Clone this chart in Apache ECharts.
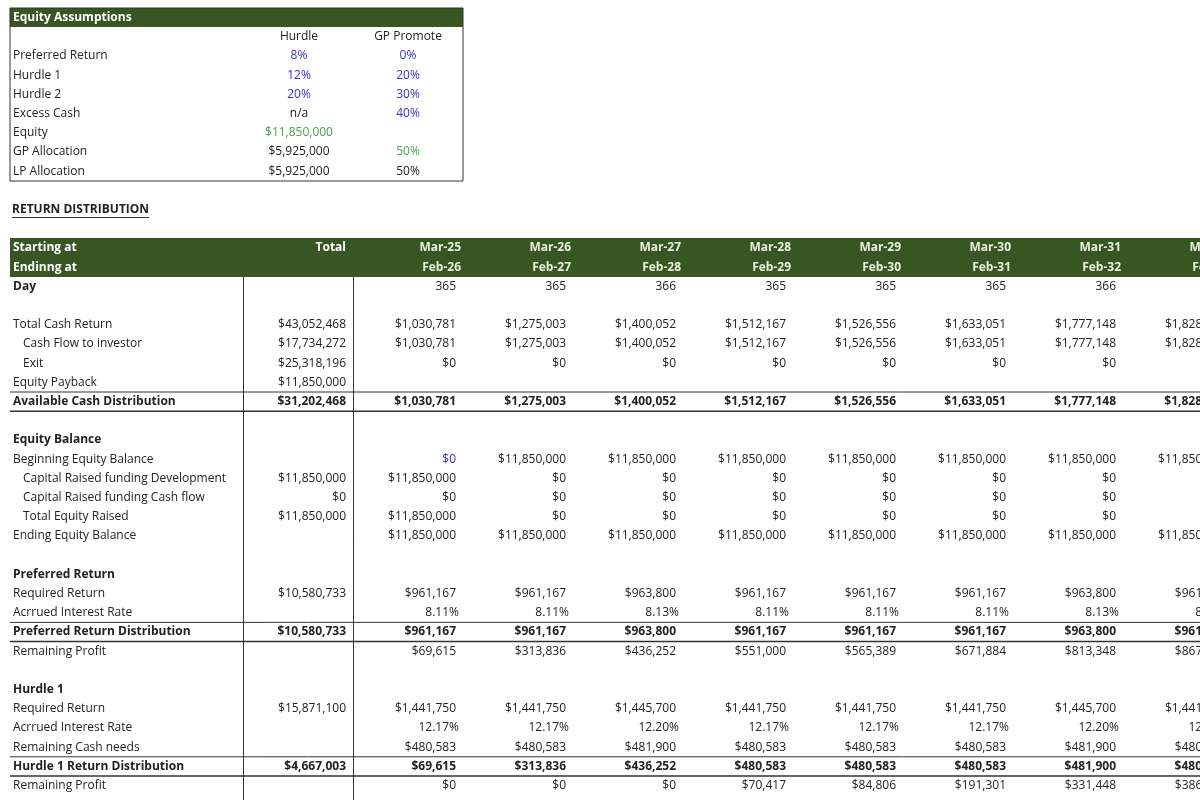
<!DOCTYPE html>
<html>
<head>
<meta charset="utf-8">
<script src="https://cdn.jsdelivr.net/npm/echarts@6/dist/echarts.min.js"></script>
<style>html,body{margin:0;padding:0;background:#fff}#chart{width:1200px;height:800px}</style>
</head>
<body>
<div id="chart"></div>
<script>
// equity assumptions block
const assumpLabels = ['Preferred Return', 'Hurdle 1', 'Hurdle 2', 'Excess Cash', 'Equity', 'GP Allocation', 'LP Allocation'];
const hurdleVals = ['8%', '12%', '20%', 'n/a', '$11,850,000', '$5,925,000', '$5,925,000'];
const hurdleColors = ['blue', 'blue', 'blue', 'dark', 'green', 'dark', 'dark'];
const promoteVals = ['0%', '20%', '30%', '40%', '', '50%', '50%'];
const promoteColors = ['blue', 'blue', 'blue', 'blue', 'dark', 'green', 'dark'];

// return distribution
const startMonths = ['Mar-25', 'Mar-26', 'Mar-27', 'Mar-28', 'Mar-29', 'Mar-30', 'Mar-31', 'Mar-32'];
const endMonths = ['Feb-26', 'Feb-27', 'Feb-28', 'Feb-29', 'Feb-30', 'Feb-31', 'Feb-32', 'Feb-33'];
const days = ['365', '365', '366', '365', '365', '365', '366', '365'];
const cashReturn = ['$1,030,781', '$1,275,003', '$1,400,052', '$1,512,167', '$1,526,556', '$1,633,051', '$1,777,148', '$1,828,250'];
const exitVals = ['$0', '$0', '$0', '$0', '$0', '$0', '$0', ''];
const beginEquity = ['$0', '$11,850,000', '$11,850,000', '$11,850,000', '$11,850,000', '$11,850,000', '$11,850,000', '$11,850,000'];
const raisedDev = ['$11,850,000', '$0', '$0', '$0', '$0', '$0', '$0', ''];
const raisedCash = ['$0', '$0', '$0', '$0', '$0', '$0', '$0', ''];
const endEquity = ['$11,850,000', '$11,850,000', '$11,850,000', '$11,850,000', '$11,850,000', '$11,850,000', '$11,850,000', '$11,850,000'];
const prefRequired = ['$961,167', '$961,167', '$963,800', '$961,167', '$961,167', '$961,167', '$963,800', '$961,167'];
const prefRate = ['8.11%', '8.11%', '8.13%', '8.11%', '8.11%', '8.11%', '8.13%', '8.11%'];
const prefRemaining = ['$69,615', '$313,836', '$436,252', '$551,000', '$565,389', '$671,884', '$813,348', '$867,000'];
const h1Required = ['$1,441,750', '$1,441,750', '$1,445,700', '$1,441,750', '$1,441,750', '$1,441,750', '$1,445,700', '$1,441,750'];
const h1Rate = ['12.17%', '12.17%', '12.20%', '12.17%', '12.17%', '12.17%', '12.20%', '12.17%'];
const h1Needs = ['$480,583', '$480,583', '$481,900', '$480,583', '$480,583', '$480,583', '$481,900', '$480,583'];
const h1Dist = ['$69,615', '$313,836', '$436,252', '$480,583', '$480,583', '$480,583', '$481,900', '$480,583'];
const h1Remaining = ['$0', '$0', '$0', '$70,417', '$84,806', '$191,301', '$331,448', '$386,400'];

const rows = [
  { label: 'Starting at', total: 'Total', vals: startMonths, head: true },
  { label: 'Endinng at', total: '', vals: endMonths, head: true },
  { label: 'Day', total: '', vals: days, bold: true, valBold: false },
  null,
  { label: 'Total Cash Return', total: '$43,052,468', vals: cashReturn },
  { label: 'Cash Flow to investor', indent: 1, total: '$17,734,272', vals: cashReturn },
  { label: 'Exit', indent: 1, total: '$25,318,196', vals: exitVals },
  { label: 'Equity Payback', total: '$11,850,000', vals: [] },
  { label: 'Available Cash Distribution', total: '$31,202,468', vals: cashReturn, bold: true, lines: true },
  null,
  { label: 'Equity Balance', bold: true, vals: [] },
  { label: 'Beginning Equity Balance', total: '', vals: beginEquity, firstBlue: true },
  { label: 'Capital Raised funding Development', indent: 1, total: '$11,850,000', vals: raisedDev },
  { label: 'Capital Raised funding Cash flow', indent: 1, total: '$0', vals: raisedCash },
  { label: 'Total Equity Raised', indent: 1, total: '$11,850,000', vals: raisedDev },
  { label: 'Ending Equity Balance', total: '', vals: endEquity },
  null,
  { label: 'Preferred Return', bold: true, vals: [] },
  { label: 'Required Return', total: '$10,580,733', vals: prefRequired },
  { label: 'Acrrued Interest Rate', total: '', vals: prefRate, pct: true },
  { label: 'Preferred Return Distribution', total: '$10,580,733', vals: prefRequired, bold: true, lines: true },
  { label: 'Remaining Profit', total: '', vals: prefRemaining },
  null,
  { label: 'Hurdle 1', bold: true, vals: [] },
  { label: 'Required Return', total: '$15,871,100', vals: h1Required },
  { label: 'Acrrued Interest Rate', total: '', vals: h1Rate, pct: true },
  { label: 'Remaining Cash needs', total: '', vals: h1Needs },
  { label: 'Hurdle 1 Return Distribution', total: '$4,667,003', vals: h1Dist, bold: true, lines: true },
  { label: 'Remaining Profit', total: '', vals: h1Remaining }
];

const FONT = '"Open Sans", "Noto Sans", sans-serif';
const INK = '#222';
const BLUE = '#3232c8';
const GREEN = '#4ca14c';
const DARKGREEN = '#375623';
const colorOf = c => c === 'blue' ? BLUE : c === 'green' ? GREEN : INK;

function txt(x, y, s, o) {
  o = o || {};
  return {
    type: 'text', x: x, y: y, silent: true,
    style: {
      text: s, fill: o.fill || INK, font: (o.bold ? 'bold ' : '') + '12px ' + FONT,
      align: o.align || 'left', verticalAlign: 'middle',
      width: o.width, overflow: o.width ? 'truncate' : undefined, ellipsis: ''
    }
  };
}
function line(x1, y1, x2, y2, w) {
  return { type: 'line', silent: true, shape: { x1: x1, y1: y1, x2: x2, y2: y2 }, style: { stroke: '#333', lineWidth: w || 1 } };
}

const g = [];
// top block
const step = 19.2;
g.push({ type: 'rect', shape: { x: 10, y: 8, width: 453, height: 19 }, style: { fill: DARKGREEN } });
g.push(txt(13, 18, 'Equity Assumptions', { bold: true, fill: '#fff' }));
g.push({ type: 'rect', shape: { x: 10, y: 8, width: 453, height: 173 }, style: { fill: 'none', stroke: '#333', lineWidth: 1 } });
g.push(txt(299, 37, 'Hurdle', { align: 'center' }));
g.push(txt(408, 37, 'GP Promote', { align: 'center' }));
assumpLabels.forEach((l, i) => {
  const y = 56 + i * step;
  g.push(txt(13, y, l));
  g.push(txt(299, y, hurdleVals[i], { align: 'center', fill: colorOf(hurdleColors[i]) }));
  g.push(txt(408, y, promoteVals[i], { align: 'center', fill: colorOf(promoteColors[i]) }));
});
g.push(txt(12, 210, 'RETURN DISTRIBUTION', { bold: true }));
g.push(line(12, 217.5, 149, 217.5, 1));

// main table
const y0 = 248;
const totalRight = 346;
const colRight = i => 456 + i * 110;
g.push({ type: 'rect', shape: { x: 10, y: 238, width: 1190, height: 39 }, style: { fill: DARKGREEN } });
rows.forEach((r, i) => {
  if (!r) return;
  const y = y0 + i * step;
  const fill = r.head ? '#fff' : INK;
  g.push(txt(13 + (r.indent ? 10 : 0), y, r.label, { bold: r.bold || r.head, fill: fill, width: 243 - 13 - (r.indent ? 10 : 0) }));
  if (r.total) g.push(txt(totalRight, y, r.total, { align: 'right', bold: r.bold || r.head, fill: fill }));
  r.vals.forEach((v, j) => {
    const vb = r.head || (r.bold && r.valBold !== false);
    const x = colRight(j) + (r.head ? 5 : 0) + (r.pct ? 3 : 0);
    g.push(txt(x, y, v, { align: 'right', bold: vb, fill: r.head ? '#e8f0dc' : (r.firstBlue && j === 0 ? BLUE : INK) }));
  });
  if (r.lines) {
    g.push(line(10, y - 9.6, 1200, y - 9.6, 1));
    g.push(line(10, y + 9.6, 1200, y + 9.6, 1.5));
  }
});
g.push(line(243.5, 277, 243.5, 800, 1));
g.push(line(353.5, 277, 353.5, 800, 1));

const chart = echarts.init(document.getElementById('chart'));
chart.setOption({ backgroundColor: '#fff', animation: false, graphic: g });
</script>
</body>
</html>
